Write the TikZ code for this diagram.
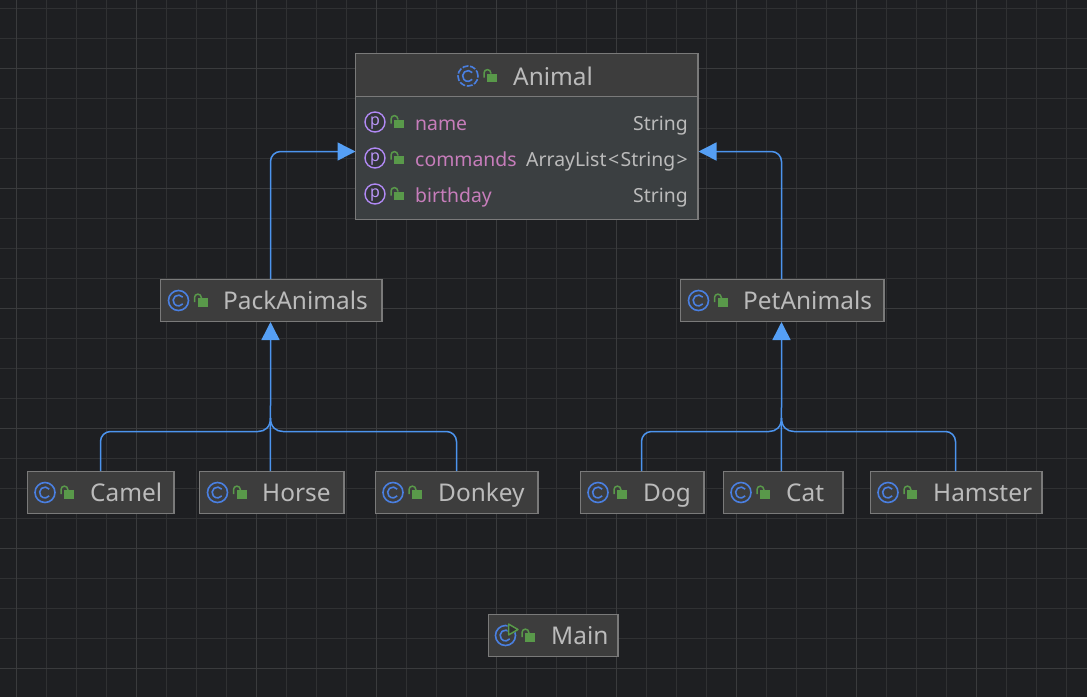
\documentclass[tikz,border=0pt]{standalone}
\usepackage{fontspec}
\setmainfont{Noto Sans}
\usetikzlibrary{arrows.meta,calc}
\definecolor{bg}{HTML}{1E1F22}
\definecolor{gridm}{HTML}{303133}
\definecolor{gridM}{HTML}{3A3B3D}
\definecolor{boxf}{HTML}{3D3D3D}
\definecolor{bodyf}{HTML}{3B3F41}
\definecolor{boxd}{HTML}{7A7A7A}
\definecolor{txt}{HTML}{BBBBBB}
\definecolor{pink}{HTML}{C77DBB}
\definecolor{edge}{HTML}{4C94EE}
\definecolor{iconb}{HTML}{4A7FE0}
\definecolor{arrowb}{HTML}{559FF5}
\definecolor{lockg}{HTML}{59994A}
\definecolor{purp}{HTML}{B189F5}
\tikzset{
 x=1pt,y=-1pt,
 box/.style={draw=boxd,line width=1.1pt,fill=boxf,inner sep=0pt,outer sep=0pt,anchor=north west},
 head/.style={font=\fontsize{24.4}{24.4}\selectfont,text=txt,inner sep=0pt,anchor=base west},
 member/.style={font=\fontsize{19.4}{19.4}\selectfont,text=pink,inner sep=0pt,anchor=base west},
 mtype/.style={font=\fontsize{19.4}{19.4}\selectfont,text=txt,inner sep=0pt,anchor=base east},
 link/.style={draw=edge,line width=1.5pt,rounded corners=10pt},
 inherit/.style={draw=edge,line width=1.5pt,-{Triangle[length=18pt,width=18pt,fill=arrowb,color=arrowb]}},
 pics/classicon/.style={code={
   \draw[iconb,line width=1.6pt] (0,0) circle[radius=10pt];
   \draw[iconb,line width=1.6pt] (4.2,-3.4) arc[start angle=39,end angle=321,radius=5.4pt];
 }},
 pics/abstracticon/.style={code={
   \draw[iconb,line width=1.6pt,dash pattern=on 6pt off 1.6pt] (0,0) circle[radius=10pt];
   \draw[iconb,line width=1.6pt] (4.2,-3.4) arc[start angle=39,end angle=321,radius=5.4pt];
 }},
 pics/propicon/.style={code={
   \draw[purp,fill=bodyf!70!bg,line width=1.4pt] (0,0) circle[radius=10pt];
   \node[text=purp!90!white,inner sep=0pt,font=\fontsize{16}{16}\selectfont] at (0,0.8) {p};
 }},
 pics/lockicon/.style={code={
   \fill[lockg] (-2,-2.5) rectangle (8,6);
   \draw[lockg,line width=1.5pt] (-5,1.5) -- (-5,-3) arc[start angle=180,end angle=0,radius=3.4pt] -- (1.8,-2.5);
 }},
 pics/runicon/.style={code={
   \draw[iconb,line width=1.6pt] (0,0) circle[radius=10pt];
   \draw[iconb,line width=1.6pt] (4.2,-3.4) arc[start angle=39,end angle=321,radius=5.4pt];
   \fill[bg!40!boxf] (2,-13) -- (14,-6) -- (2,1) -- cycle;
   \draw[lockg,line width=1.5pt,line join=round] (3,-11.5) -- (12.5,-6) -- (3,-0.5) -- cycle;
 }}
}
\newcommand{\classbox}[8]{% name, x0, y0, x1, y1, label, labelx, iconx
  \node[box,minimum width=#4-#2,minimum height=#5-#3] (#1) at (#2,#3) {};
  \pic at (#8,#3+21) {classicon};
  \pic at (#8+21,#3+21) {lockicon};
  \node[head] (#1label) at (#7,#3+29.5) {#6};
}
\begin{document}
\begin{tikzpicture}
\useasboundingbox (0,0) rectangle (1087,697);
\fill[bg] (0,0) rectangle (1087,697);
% grid
\foreach \i in {0,...,36}{\draw[gridm,line width=1pt] (16.5+30*\i,0) -- (16.5+30*\i,697);}
\foreach \j in {0,...,23}{\draw[gridm,line width=1pt] (0,8+30*\j) -- (1087,8+30*\j);}
\foreach \i in {0,...,8}{\draw[gridM,line width=1pt] (16.5+120*\i,0) -- (16.5+120*\i,697);}
\foreach \j in {0,...,5}{\draw[gridM,line width=1pt] (0,68+120*\j) -- (1087,68+120*\j);}
% Animal
\node[box,minimum width=342.5,minimum height=166,fill=bodyf] (animal) at (355.5,53.5) {};
\fill[boxf] (355.5,53.5) rectangle (698,96.5);
\draw[boxd,line width=1.1pt] (355.5,53.5) rectangle (698,219.5);
\draw[boxd,line width=1.5pt] (355.5,96.7) -- (698,96.7);
\pic at (468,76) {abstracticon};
\pic at (489,76) {lockicon};
\node[head] (animallabel) at (513,85) {Animal};
\foreach \yy/\nm/\ty in {122/name/String,158/commands/{ArrayList\kern1.5pt<\kern1.5ptString\kern1.5pt>},194/birthday/String}{
  \pic at (375,\yy) {propicon};
  \pic at (396,\yy) {lockicon};
  \node[member] at (415,\yy+8) {\nm};
  \node[mtype] at (688,\yy+8) {\ty};
}
\classbox{pack}{160.5}{279.5}{382}{321.5}{PackAnimals}{223}{178.5}
\classbox{pet}{680.5}{279.5}{884}{321.5}{PetAnimals}{743}{698.5}
\classbox{camel}{27.5}{471.5}{174}{513.5}{Camel}{90}{45}
\classbox{horse}{199.5}{471.5}{344}{513.5}{Horse}{262}{217.5}
\classbox{donkey}{375.5}{471.5}{538}{513.5}{Donkey}{438}{393}
\classbox{dog}{580.5}{471.5}{704}{513.5}{Dog}{643}{598}
\classbox{cat}{723.5}{471.5}{843}{513.5}{Cat}{786}{741}
\classbox{hamster}{870.5}{471.5}{1042}{513.5}{Hamster}{933}{888}
\node[box,minimum width=129.5,minimum height=42] (main) at (488.5,614.5) {};
\pic at (505.5,635.5) {runicon};
\pic at (527,635.5) {lockicon};
\node[head] (mainlabel) at (551,644) {Main};
% connector ends
\coordinate (packT) at (270.5,279);
\coordinate (packB) at (270.5,322);
\coordinate (packS) at (270.7,338);
\coordinate (petT) at (781.5,279);
\coordinate (petB) at (781.5,322);
\coordinate (petS) at (781.7,338);
\coordinate (animL) at (355.5,151.5);
\coordinate (animR) at (698.5,151.5);
\coordinate (camelT) at (100.5,471);
\coordinate (horseT) at (270.3,471);
\coordinate (donkeyT) at (456.5,471);
\coordinate (dogT) at (641.5,471);
\coordinate (catT) at (781.3,471);
\coordinate (hamsterT) at (955.5,471);
% connectors
\draw[link] (packT) -- (270.5,151.5) -- (340,151.5);
\draw[inherit] (337,151.5) -- (animL);
\draw[link] (petT) -- (781.5,151.5) -- (715,151.5);
\draw[inherit] (717,151.5) -- (animR);
\draw[link] (horseT) -- (packS);
\draw[inherit] (270.5,340) -- (packB);
\draw[link] (catT) -- (petS);
\draw[inherit] (781.5,340) -- (petB);
\draw[link] (camelT) -- (100.5,431.5) -- (258,431.5);
\draw[link] (258,431.5) .. controls (265,431.5) and (270.5,427) .. (270.5,418);
\draw[link] (donkeyT) -- (456.5,431.5) -- (283,431.5);
\draw[link] (283,431.5) .. controls (276,431.5) and (270.5,427) .. (270.5,418);
\draw[link] (dogT) -- (641.5,431.5) -- (769,431.5);
\draw[link] (769,431.5) .. controls (776,431.5) and (781.5,427) .. (781.5,418);
\draw[link] (hamsterT) -- (955.5,431.5) -- (794,431.5);
\draw[link] (794,431.5) .. controls (787,431.5) and (781.5,427) .. (781.5,418);
\end{tikzpicture}
\end{document}
